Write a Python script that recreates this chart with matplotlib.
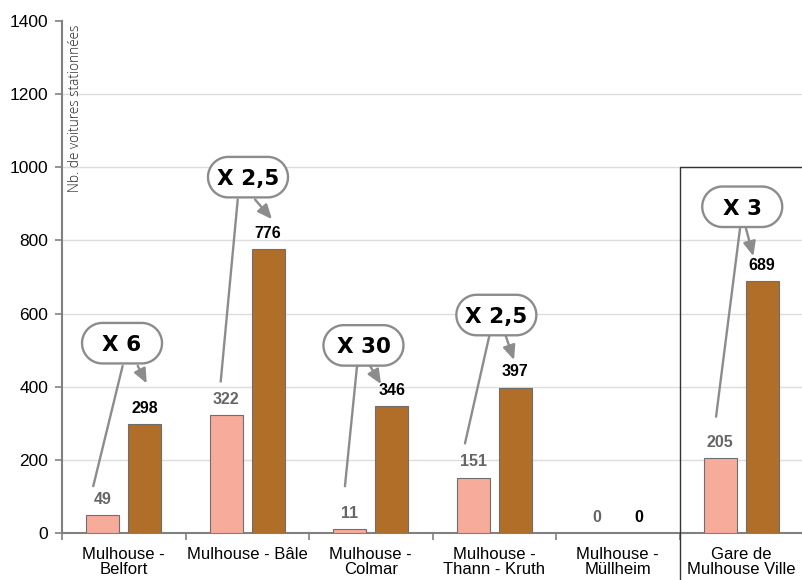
import matplotlib
matplotlib.use("Agg")
import numpy as np
import matplotlib.pyplot as plt
from matplotlib.patches import Polygon
from matplotlib.transforms import ScaledTranslation

# ---- data ----
categories = ["Mulhouse -\nBelfort", "Mulhouse - Bâle", "Mulhouse -\nColmar",
              "Mulhouse -\nThann - Kruth", "Mulhouse -\nMüllheim", "Gare de\nMulhouse Ville"]
before = [49, 322, 11, 151, 0, 205]
after = [298, 776, 346, 397, 0, 689]
factors = ["X 6", "X 2,5", "X 30", "X 2,5", None, "X 3"]
y_ticks = [0, 200, 400, 600, 800, 1000, 1200, 1400]

# ---- callout layout (data coordinates) ----
bubble_xy = [(-0.014, 519), (1.006, 973), (1.941, 513), (3.017, 596), None, (5.008, 892)]
line_from = [(-0.009, 457), (0.923, 912), (1.889, 457), (2.960, 539), None, (4.990, 833)]
line_to = [(-0.247, 128), (0.785, 414), (1.791, 128), (2.763, 245), None, (4.796, 318)]
arrow_from = [(0.113, 457), (1.063, 912), (1.994, 457), (3.093, 539), None, (5.038, 833)]
arrow_to = [(0.186, 409), (1.200, 858), (2.083, 407), (3.160, 473), None, (5.098, 757)]

PINK = "#F7AB9B"
BROWN = "#B06E29"
GREY = "#8C8C8C"

plt.rcParams["font.family"] = ["Liberation Sans", "DejaVu Sans"]


def stadium(width, height, n=40):
    """Outline of a pill shape centred on the origin (inches)."""
    r = height / 2
    c = width / 2 - r
    t_right = np.linspace(-np.pi / 2, np.pi / 2, n)
    t_left = np.linspace(np.pi / 2, 3 * np.pi / 2, n)
    right = np.column_stack([c + r * np.cos(t_right), r * np.sin(t_right)])
    left = np.column_stack([-c + r * np.cos(t_left), r * np.sin(t_left)])
    return np.vstack([right, left])


fig = plt.figure(figsize=(8.02, 5.80), dpi=100)
ax = fig.add_axes([62 / 802, 47 / 580, 741 / 802, 512 / 580])

x = list(range(len(categories)))
off = 0.17
w = 0.27
ax.bar([i - off for i in x], before, width=w, color=PINK, edgecolor="#6E6E6E",
       linewidth=0.8, zorder=3)
ax.bar([i + off for i in x], after, width=w, color=BROWN, edgecolor="#6E6E6E",
       linewidth=0.8, zorder=3)

for i in x:
    ax.annotate(str(before[i]), (i - off, before[i]), xytext=(0, 6),
                textcoords="offset points", ha="center", va="bottom",
                fontsize=11.5, fontweight="bold", color="#666666", zorder=4)
    ax.annotate(str(after[i]), (i + off, after[i]), xytext=(0, 6),
                textcoords="offset points", ha="center", va="bottom",
                fontsize=11.5, fontweight="bold", color="black", zorder=4)

# horizontal grid
for v in y_ticks[1:-1]:
    ax.axhline(v, color="#DDDDDD", linewidth=1, zorder=1)

ax.set_xlim(-0.5, 5.5)
ax.set_ylim(0, 1400)
ax.set_yticks(y_ticks)
ax.tick_params(axis="y", length=5, width=1.2, color="#808080", labelsize=12.5, pad=5)
ax.set_xticks(x)
ax.set_xticklabels(categories, fontsize=12, linespacing=1.0)
ax.tick_params(axis="x", which="major", length=0, pad=10)
ax.set_xticks([i + 0.5 for i in range(-1, 5)], minor=True)
ax.tick_params(axis="x", which="minor", length=5, width=1.2, color="#808080")
for s in ("top", "right"):
    ax.spines[s].set_visible(False)
for s in ("left", "bottom"):
    ax.spines[s].set_color("#808080")
    ax.spines[s].set_linewidth(1.5)

ax.text(0.0085, 0.993, "Nb. de voitures stationnées", transform=ax.transAxes,
        rotation=90, ha="left", va="top", fontsize=9.8, family=["Open Sans", "DejaVu Sans"],
        fontweight="light", color="#222222")

# frame around the station column
ax.plot([4.5, 4.5, 5.497, 5.497], [-140, 1000, 1000, -140], color="#333333",
        linewidth=1, clip_on=False, zorder=5)

# callouts with growth factor
for i, f in enumerate(factors):
    if f is None:
        continue
    ax.annotate("", xy=line_to[i], xytext=line_from[i],
                arrowprops=dict(arrowstyle="-", color=GREY, lw=1.7,
                                shrinkA=0, shrinkB=0), zorder=6)
    ax.annotate("", xy=arrow_to[i], xytext=arrow_from[i],
                arrowprops=dict(arrowstyle="-|>,head_length=0.62,head_width=0.27",
                                color=GREY, lw=1.7, shrinkA=0, shrinkB=0,
                                mutation_scale=14), zorder=6)
    cx, cy = bubble_xy[i]
    trans = fig.dpi_scale_trans + ScaledTranslation(cx, cy, ax.transData)
    box = Polygon(stadium(0.80, 0.405), closed=True, facecolor="white",
                  edgecolor=GREY, linewidth=1.7, transform=trans, zorder=7,
                  clip_on=False)
    ax.add_patch(box)
    ax.text(cx, cy, f, ha="center", va="center_baseline", fontsize=15.5,
            fontweight="bold", family=["DejaVu Sans"], zorder=8)

fig.savefig("out.png", dpi=100)
